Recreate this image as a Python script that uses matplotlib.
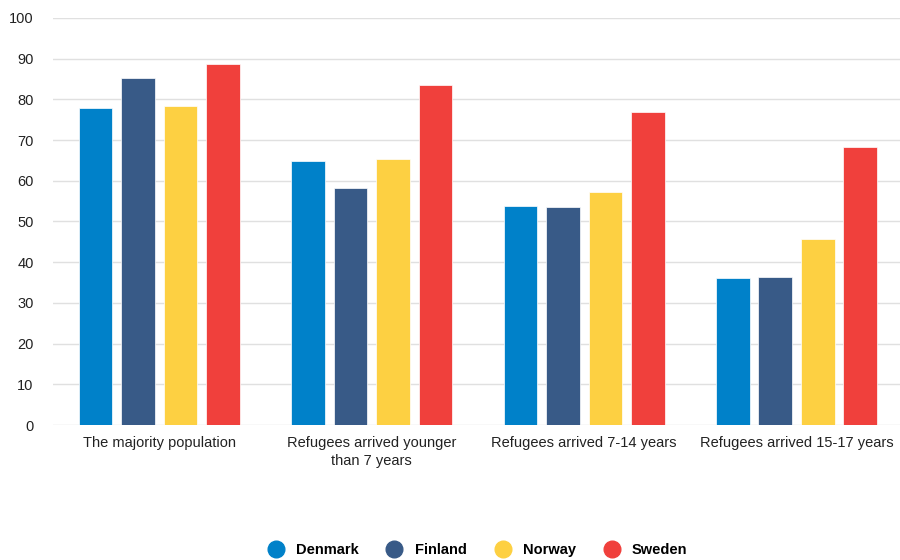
import numpy as np
import matplotlib.pyplot as plt
from matplotlib.lines import Line2D

plt.rcParams['font.family'] = ['Liberation Sans', 'DejaVu Sans']

grupos = ["The majority population", "Refugees arrived younger\nthan 7 years",
          "Refugees arrived 7-14 years", "Refugees arrived 15-17 years"]
paises = ["Denmark", "Finland", "Norway", "Sweden"]
denmark = [77.9, 64.9, 53.8, 36.1]
finland = [85.2, 58.2, 53.6, 36.3]
norway = [78.4, 65.4, 57.2, 45.7]
sweden = [88.7, 83.5, 76.9, 68.3]
colores = ["#0081C9", "#385A87", "#FDD042", "#F0403C"]

series = [denmark, finland, norway, sweden]

fig = plt.figure(figsize=(9, 5.6), dpi=100)
ax = fig.add_axes([0.059, 0.241, 0.944, 0.727])

x = np.arange(len(grupos))
paso = 0.2
ancho = 0.158
for i, (vals, col) in enumerate(zip(series, colores)):
    ax.bar(x + (i - 1.5) * paso, vals, width=ancho, color=col,
           edgecolor="white", linewidth=0.5, zorder=3)

ax.set_xlim(-0.5, 3.5)
ax.set_ylim(0, 100)
ax.set_yticks(range(0, 101, 10))
ax.set_xticks(x)
ax.set_xticklabels(grupos, fontsize=10.5, color="#222222", linespacing=1.35)
ax.tick_params(axis="y", labelsize=10.5, colors="#222222", length=0, pad=14)
ax.tick_params(axis="x", length=0, pad=8)
ax.grid(axis="y", color="#e0e0e0", linewidth=1, zorder=0)
for s in ax.spines.values():
    s.set_visible(False)

handles = [Line2D([0], [0], marker="o", linestyle="", markersize=12,
                  markerfacecolor=c, markeredgecolor=c) for c in colores]
leg = fig.legend(handles, paises, loc="center", bbox_to_anchor=(0.527, 0.017),
                 ncol=4, frameon=False, handletextpad=0.4, columnspacing=1.45,
                 prop={"weight": "bold", "size": 10.5})

fig.savefig("out.png", dpi=100)
